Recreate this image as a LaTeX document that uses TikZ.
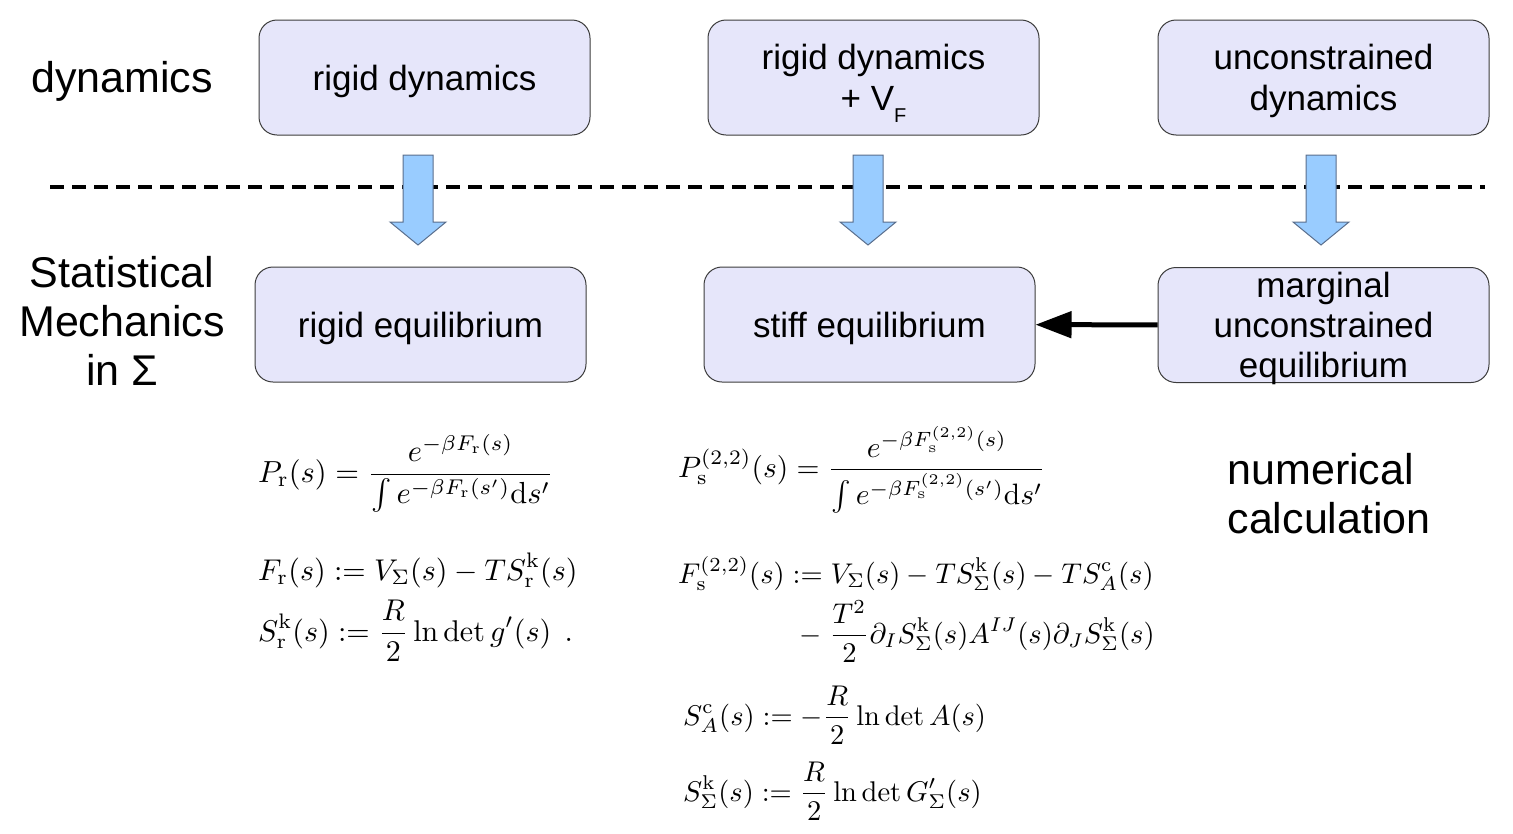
\documentclass[tikz,border=0pt]{standalone}
\usepackage{amsmath}
\usepackage[no-math]{fontspec}
\setmainfont{Liberation Sans}
\usetikzlibrary{arrows.meta}

\definecolor{boxfill}{RGB}{230,230,250}
\definecolor{boxline}{RGB}{60,60,60}
\definecolor{arrfill}{RGB}{153,204,255}
\definecolor{arrline}{RGB}{90,110,140}

\newcommand{\bigeq}[2][3.0]{\scalebox{#1}{$\displaystyle #2$}}

\tikzset{
  stage/.style={draw=boxline,line width=1pt,fill=boxfill,rounded corners=18pt,
    minimum width=331pt,minimum height=115pt,align=center,text depth=0pt,
    font=\fontsize{35}{41}\selectfont},
  side/.style={align=center,font=\fontsize{43}{49}\selectfont},
  eq/.style={anchor=base west,inner sep=0pt},
  downarr/.pic={
    \draw[draw=arrline,fill=arrfill,line width=1pt,line join=miter]
      (-15,0) -- (15,0) -- (15,67) -- (28,67) -- (0,90) -- (-28,67) -- (-15,67) -- cycle;
  }
}

\begin{document}
\begin{tikzpicture}[x=1pt,y=-1pt,line cap=butt]
\useasboundingbox (0,0) rectangle (1513,833);
\coordinate (sepL) at (50,187);
\coordinate (sepR) at (1485,187);
\draw[line width=4pt,dash pattern=on 14pt off 8pt] (sepL) -- (sepR);
% boxes
\node[stage] (rd) at (424.5,77.5) {rigid dynamics};
\node[stage] (rdv) at (873.5,77.5) {rigid dynamics\\+ V\raisebox{-0.35em}{\fontsize{20}{20}\selectfont F}};
\node[stage] (ud) at (1323.5,77.5) {unconstrained\\dynamics};
\node[stage] (re) at (420.5,324.5) {rigid equilibrium};
\node[stage] (se) at (869.5,324.5) {stiff equilibrium};
\node[stage,inner sep=0pt,font=\fontsize{35}{40}\selectfont] (mue) at (1323.5,325) {marginal\\unconstrained\\equilibrium};
% block arrows
\pic (a1) at (418,155) {downarr};
\pic (a2) at (868,155) {downarr};
\pic (a3) at (1321,155) {downarr};
\draw[-{Triangle[length=36pt,width=26pt]},line width=5pt] (mue) -- (se);
% side labels
\node[side] (dyn) at (122,81) {dynamics};
\node[side] (stat) at (122,321) {Statistical\\Mechanics\\in Σ};
\node[side,align=left,anchor=west] (num) at (1224,494) {numerical\\calculation};
% rigid formulas
\node[eq] (pr) at (258,482) {\bigeq[3.05]{P_{\mathrm{r}}(s) = \frac{e^{-\beta F_{\mathrm{r}}(s)}}{\int e^{-\beta F_{\mathrm{r}}(s')}\mathrm{d}s'}}};
\node[eq] (fr) at (258,580) {\bigeq{F_{\mathrm{r}}(s) := V_{\Sigma}(s) - T S^{\mathrm{k}}_{\mathrm{r}}(s)}};
\node[eq] (sr) at (258,641) {\bigeq{S^{\mathrm{k}}_{\mathrm{r}}(s) := \frac{R}{2}\ln\det g'(s)\ \,.}};
% stiff formulas
\node[eq] (ps) at (678,477) {\bigeq[2.95]{P^{(2,2)}_{\mathrm{s}}(s) = \frac{e^{-\beta F^{(2,2)}_{\mathrm{s}}(s)}}{\int e^{-\beta F^{(2,2)}_{\mathrm{s}}(s')}\mathrm{d}s'}}};
\node[eq] (fs) at (678,583) {\bigeq[2.85]{F^{(2,2)}_{\mathrm{s}}(s) := V_{\Sigma}(s) - T S^{\mathrm{k}}_{\Sigma}(s) - T S^{\mathrm{c}}_{A}(s)}};
\node[eq] (fs2) at (799,643) {\bigeq[2.85]{-\ \frac{T^2}{2}\partial_I S^{\mathrm{k}}_{\Sigma}(s) A^{IJ}(s)\partial_J S^{\mathrm{k}}_{\Sigma}(s)}};
\node[eq] (sa) at (683,725) {\bigeq[2.85]{S^{\mathrm{c}}_{A}(s) := -\frac{R}{2}\ln\det A(s)}};
\node[eq] (sk) at (683,801) {\bigeq[2.85]{S^{\mathrm{k}}_{\Sigma}(s) := \frac{R}{2}\ln\det G'_{\Sigma}(s)}};
\end{tikzpicture}
\end{document}
